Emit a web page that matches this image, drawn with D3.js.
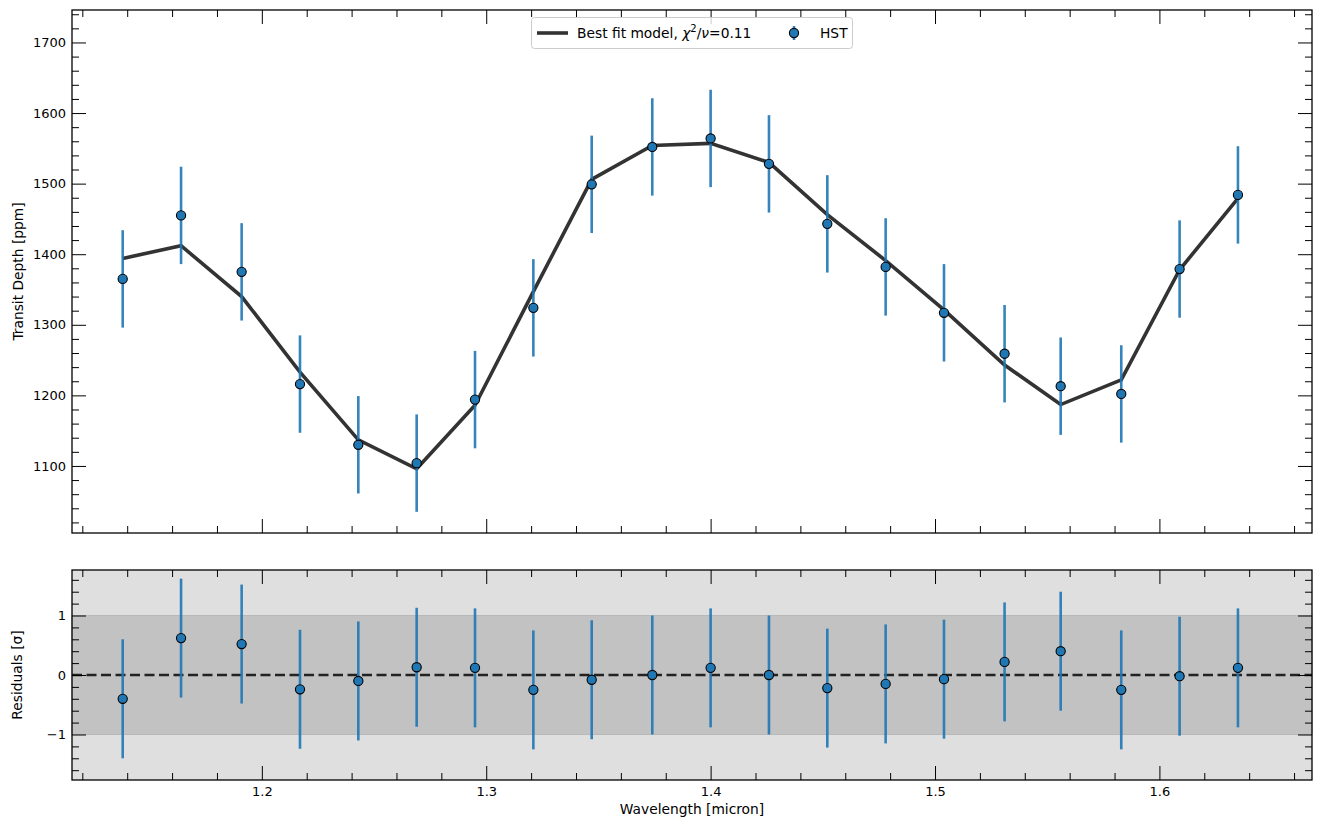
<!DOCTYPE html>
<meta charset="utf-8">
<head>
<script src="https://d3js.org/d3.v7.min.js"></script>
<style>
body { margin: 0; background: #fff; }
text { font-family: "DejaVu Sans", sans-serif; font-size: 13.8px; fill: #000; }
.tick line { stroke: #000; stroke-width: 1; }
.frame { fill: none; stroke: #000; stroke-width: 1.3; }
</style>
</head>
<body>
<script>

// wavelengths of the HST bins (micron)
var wavelength = [1.138, 1.164, 1.191, 1.217, 1.243, 1.269, 1.295, 1.321, 1.347, 1.374,
                  1.400, 1.426, 1.452, 1.478, 1.504, 1.531, 1.556, 1.583, 1.609, 1.635];
// measured transit depth (ppm) and 1-sigma errors
var depth = [1365, 1455, 1375, 1216, 1130, 1104, 1194, 1324, 1499, 1552,
             1564, 1528, 1443, 1382, 1317, 1259, 1213, 1202, 1379, 1484];
var depthErr = [69, 69, 69, 69, 69, 69, 69, 69, 69, 69,
                69, 69, 69, 69, 69, 69, 69, 69, 69, 69];
// best fit model evaluated at the same bins
var model = [1394, 1412, 1340, 1233, 1137, 1096, 1186, 1347, 1506, 1554,
             1557, 1530, 1456, 1391, 1321, 1243, 1187, 1222, 1378, 1479];
// residuals in sigma
var residual = [-0.40, 0.62, 0.52, -0.24, -0.10, 0.13, 0.12, -0.25, -0.08, 0.00,
                0.12, 0.00, -0.22, -0.15, -0.07, 0.22, 0.40, -0.25, -0.02, 0.12];

var xTicks = [1.2, 1.3, 1.4, 1.5, 1.6];
var depthTicks = [1100, 1200, 1300, 1400, 1500, 1600, 1700];
var resTicks = [-1, 0, 1];

var data = wavelength.map(function(w, i) {
  return {w: w, d: depth[i], e: depthErr[i], m: model[i], r: residual[i]};
});

var blue = "#1f77b4";
var W = 1321, H = 828;
var left = 72, right = 1312;
var top1 = 10, bot1 = 533, top2 = 570, bot2 = 780;

var svg = d3.select("body").append("svg")
    .attr("width", W).attr("height", H);

var x = d3.scaleLinear().domain([1.1154, 1.668]).range([left, right]);
var y = d3.scaleLinear().domain([1005, 1746]).range([bot1, top1]);
var yr = d3.scaleLinear().domain([-1.765, 1.765]).range([bot2, top2]);

var xMinor = d3.range(1.12, 1.67, 0.02).filter(function(v) {
  return Math.abs(v * 10 - Math.round(v * 10)) > 1e-6; });
var yMinor = d3.range(1020, 1745, 20).filter(function(v) { return v % 100 !== 0; });
var rMinor = d3.range(-1.6, 1.7, 0.2).filter(function(v) {
  return Math.abs(v - Math.round(v)) > 1e-6; });

// helper to draw inward ticks on all four sides
function frameTicks(g, ys, yMajor, yMin, yFmt, t, b, xLabels) {
  g.append("g").attr("transform", "translate(0," + b + ")")
      .call(d3.axisBottom(x).tickValues(xTicks).tickSize(-14).tickPadding(7)
            .tickFormat(xLabels ? d3.format(".1f") : ""));
  g.append("g").attr("transform", "translate(0," + b + ")")
      .call(d3.axisBottom(x).tickValues(xMinor).tickSize(-7).tickFormat(""));
  g.append("g").attr("transform", "translate(0," + t + ")")
      .call(d3.axisTop(x).tickValues(xTicks).tickSize(-14).tickFormat(""));
  g.append("g").attr("transform", "translate(0," + t + ")")
      .call(d3.axisTop(x).tickValues(xMinor).tickSize(-7).tickFormat(""));
  g.append("g").attr("transform", "translate(" + left + ",0)")
      .call(d3.axisLeft(ys).tickValues(yMajor).tickSize(-14).tickPadding(6).tickFormat(yFmt));
  g.append("g").attr("transform", "translate(" + left + ",0)")
      .call(d3.axisLeft(ys).tickValues(yMin).tickSize(-7).tickFormat(""));
  g.append("g").attr("transform", "translate(" + right + ",0)")
      .call(d3.axisRight(ys).tickValues(yMajor).tickSize(-14).tickFormat(""));
  g.append("g").attr("transform", "translate(" + right + ",0)")
      .call(d3.axisRight(ys).tickValues(yMin).tickSize(-7).tickFormat(""));
  g.selectAll(".domain").remove();
  g.selectAll(".tick text").style("font-size", "13px").attr("fill", "#000");
  g.append("rect").attr("class", "frame")
      .attr("x", left).attr("y", t).attr("width", right - left).attr("height", b - t);
}

// ---------- top panel ----------
var g1 = svg.append("g");

g1.append("path")
    .datum(data)
    .attr("fill", "none")
    .attr("stroke", "#333333")
    .attr("stroke-width", 3.6)
    .attr("d", d3.line().x(function(d) { return x(d.w); }).y(function(d) { return y(d.m); }));

g1.selectAll(".err").data(data).enter().append("line")
    .attr("x1", function(d) { return x(d.w); })
    .attr("x2", function(d) { return x(d.w); })
    .attr("y1", function(d) { return y(d.d - d.e); })
    .attr("y2", function(d) { return y(d.d + d.e); })
    .attr("stroke", blue).attr("stroke-opacity", 0.9).attr("stroke-width", 2.6);

g1.selectAll(".pt").data(data).enter().append("circle")
    .attr("cx", function(d) { return x(d.w); })
    .attr("cy", function(d) { return y(d.d); })
    .attr("r", 4.6)
    .attr("fill", blue).attr("stroke", "#000").attr("stroke-width", 1.1);

frameTicks(g1, y, depthTicks, yMinor, d3.format("d"), top1, bot1, false);

svg.append("text")
    .attr("transform", "translate(23," + ((top1 + bot1) / 2) + ") rotate(-90)")
    .attr("text-anchor", "middle")
    .text("Transit Depth [ppm]");

// legend
var lg = svg.append("g");
lg.append("rect").attr("x", 531.5).attr("y", 17.5).attr("width", 321).attr("height", 31)
    .attr("rx", 3).attr("fill", "#fff").attr("fill-opacity", 0.8)
    .attr("stroke", "#cccccc");
lg.append("line").attr("x1", 537).attr("x2", 568).attr("y1", 33).attr("y2", 33)
    .attr("stroke", "#333333").attr("stroke-width", 3.6);
var lt = lg.append("text").attr("x", 577).attr("y", 38);
lt.append("tspan").text("Best fit model, ");
lt.append("tspan").attr("font-style", "italic").text("χ");
lt.append("tspan").attr("dy", -6).style("font-size", "10px").text("2");
lt.append("tspan").attr("dy", 6).text("/");
lt.append("tspan").attr("font-style", "italic").text("ν");
lt.append("tspan").text("=0.11");
lg.append("line").attr("x1", 794).attr("x2", 794).attr("y1", 26).attr("y2", 40)
    .attr("stroke", blue).attr("stroke-opacity", 0.9).attr("stroke-width", 2.6);
lg.append("circle").attr("cx", 794).attr("cy", 33).attr("r", 4.6)
    .attr("fill", blue).attr("stroke", "#000").attr("stroke-width", 1.1);
lg.append("text").attr("x", 820).attr("y", 38).text("HST");

// ---------- residual panel ----------
var g2 = svg.append("g");

g2.append("rect").attr("x", left).attr("y", top2)
    .attr("width", right - left).attr("height", bot2 - top2).attr("fill", "#dfdfdf");
g2.append("rect").attr("x", left).attr("y", yr(1))
    .attr("width", right - left).attr("height", yr(-1) - yr(1))
    .attr("fill", "#c2c2c2").attr("stroke", "#b8b8b8").attr("stroke-width", 1);

g2.append("line").attr("x1", left).attr("x2", right)
    .attr("y1", yr(0)).attr("y2", yr(0))
    .attr("stroke", "#222").attr("stroke-width", 2.6)
    .attr("stroke-dasharray", "10,4.5");

g2.selectAll(".rerr").data(data).enter().append("line")
    .attr("x1", function(d) { return x(d.w); })
    .attr("x2", function(d) { return x(d.w); })
    .attr("y1", function(d) { return yr(d.r - 1); })
    .attr("y2", function(d) { return yr(d.r + 1); })
    .attr("stroke", blue).attr("stroke-opacity", 0.9).attr("stroke-width", 2.6);

g2.selectAll(".rpt").data(data).enter().append("circle")
    .attr("cx", function(d) { return x(d.w); })
    .attr("cy", function(d) { return yr(d.r); })
    .attr("r", 4.6)
    .attr("fill", blue).attr("stroke", "#000").attr("stroke-width", 1.1);

frameTicks(g2, yr, resTicks, rMinor, function(d) { return d < 0 ? "\u2212" + (-d) : d; },
           top2, bot2, true);

svg.append("text")
    .attr("transform", "translate(22," + yr(0) + ") rotate(-90)")
    .attr("text-anchor", "middle")
    .text("Residuals [σ]");

svg.append("text")
    .attr("x", (left + right) / 2).attr("y", 814)
    .attr("text-anchor", "middle")
    .text("Wavelength [micron]");

</script>
</body>
